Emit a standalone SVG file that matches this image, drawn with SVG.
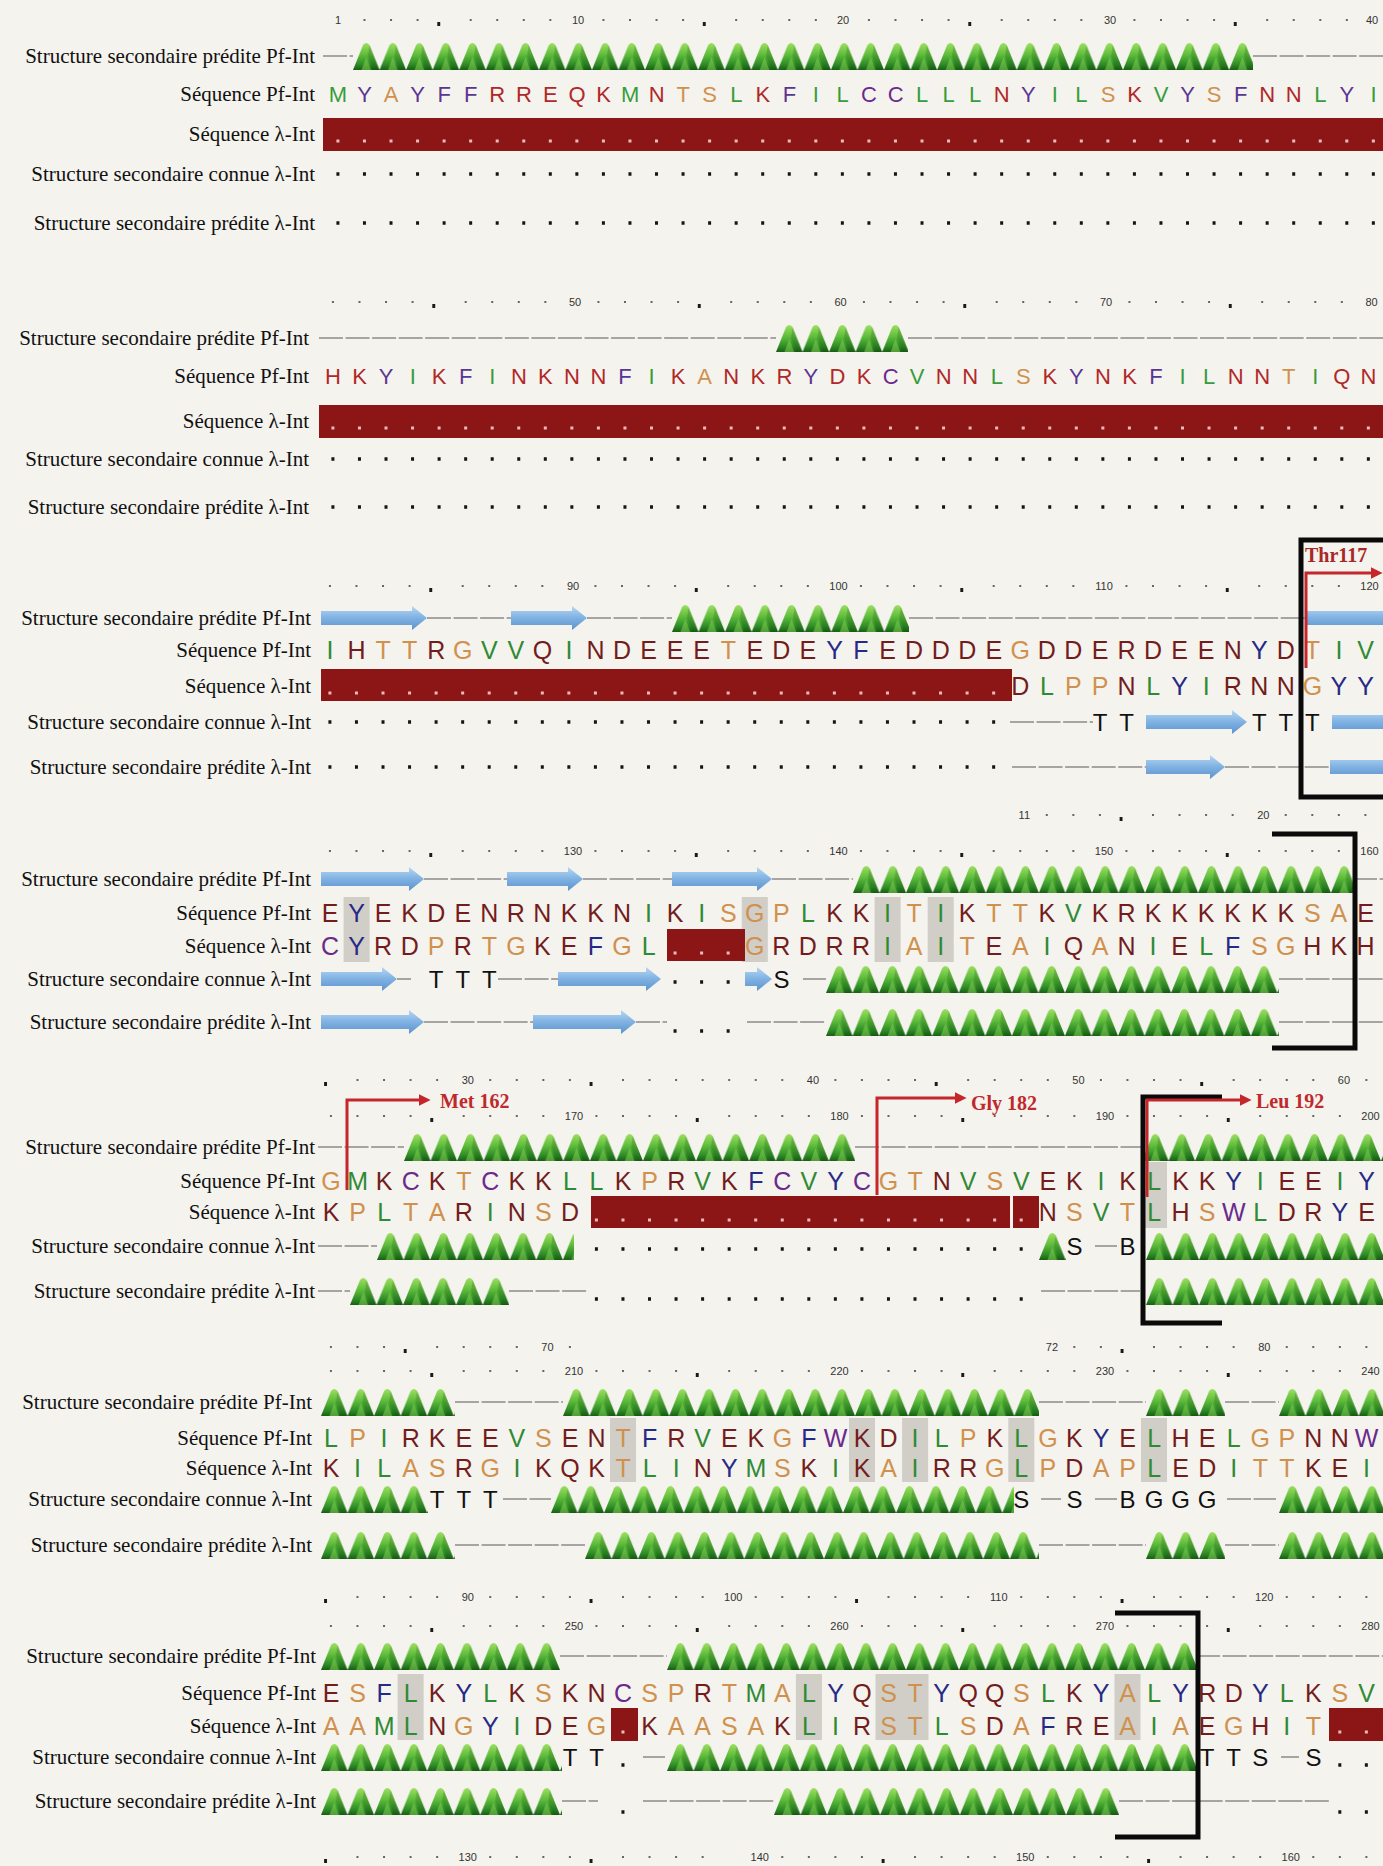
<svg xmlns="http://www.w3.org/2000/svg" width="1383" height="1866" viewBox="0 0 1383 1866">
<defs>
<style>
.lb{font-family:"Liberation Serif","Times New Roman",serif;font-size:21px;fill:#111;text-anchor:end}
.sq{font-family:"Liberation Sans",Arial,sans-serif;font-size:25px;text-anchor:middle}
.s1{font-size:22px}
.g{fill:#2f8a34}.o{fill:#d0914f}.r{fill:#731c1c}.b{fill:#262a86}.p{fill:#6a2a8c}
.k1 .r{fill:#b02828}.k1 .b{fill:#5b3592}.k1 .g{fill:#379c3c}
.ss{font-family:"Liberation Sans",Arial,sans-serif;font-size:24px;fill:#111;text-anchor:middle}
.nm{font-family:"Liberation Sans",Arial,sans-serif;font-size:11px;fill:#333;text-anchor:middle}
.an{font-family:"Liberation Serif","Times New Roman",serif;font-size:20px;font-weight:bold;fill:#c0292c}
.cl{fill:none;stroke:#8c8c8c;stroke-width:1.6;stroke-dasharray:24 2.55}
.hx{fill:url(#hx)}
.st{fill:url(#sg)}
.bar{fill:#8c1616}
.hl{fill:#d0cec7}
.rd{fill:none;stroke:#666;stroke-width:2;stroke-dasharray:0.0753 0.9247}
.tk{fill:none;stroke:#1a1a1a;stroke-width:4}
.bd{fill:none;stroke:#151515;stroke-width:3.5;stroke-dasharray:0.113 0.887}
.pd{fill:none;stroke:#ebbcbc;stroke-width:3;stroke-dasharray:0.113 0.887}
.bx{fill:none;stroke:#0a0a0a;stroke-width:5}
.ar{fill:none;stroke:#c4262a;stroke-width:3;marker-end:url(#ra)}
</style>
<linearGradient id="hg" gradientUnits="userSpaceOnUse" x1="0" y1="0" x2="0" y2="28">
<stop offset="0" stop-color="#a2e263"/><stop offset="0.45" stop-color="#5fbd3c"/><stop offset="0.8" stop-color="#2e8c26"/><stop offset="1" stop-color="#1a5e15"/>
</linearGradient>
<pattern id="hx" patternUnits="userSpaceOnUse" width="26.55" height="28">
<path d="M0,28 L10,3 Q13.3,-1 16.5,3 L26.55,28 Z" fill="url(#hg)"/>
<path d="M8.5,28 L13.3,15 L18,28 Z" fill="#7fd050" fill-opacity="0.55"/>
<path d="M16.5,3 L26.55,28 L20,28 L14.8,14 Z" fill="#0b3d08" fill-opacity="0.2"/>
</pattern>
<linearGradient id="sg" x1="0" y1="0" x2="0" y2="1">
<stop offset="0" stop-color="#b6d7f3"/><stop offset="0.5" stop-color="#7fb1e2"/><stop offset="1" stop-color="#5d94cd"/>
</linearGradient>
<marker id="ra" viewBox="0 0 10 10" refX="2" refY="5" markerWidth="4" markerHeight="4" orient="auto" markerUnits="strokeWidth">
<path d="M0,0 L10,5 L0,10 Z" fill="#c4262a"/>
</marker>
<g id="rstd"><path class="rd" d="M-0.04,0H3.04M4.96,0H8.04M9.96,0H13.04M14.96,0H18.04M19.96,0H23.04M24.96,0H28.04M29.96,0H33.04M34.96,0H38.04"/><path class="tk" d="M3.74,4H3.85M13.74,4H13.85M23.74,4H23.85M33.74,4H33.85"/></g>
</defs>
<rect width="1383" height="1866" fill="#f5f3ee"/>

<g id="block1">
<text class="lb" x="315" y="63">Structure secondaire prédite Pf-Int</text>
<text class="lb" x="315" y="101">Séquence Pf-Int</text>
<text class="lb" x="315" y="141">Séquence λ-Int</text>
<text class="lb" x="315" y="181">Structure secondaire connue λ-Int</text>
<text class="lb" x="315" y="230">Structure secondaire prédite λ-Int</text>
<g transform="translate(338,0) scale(26.55,1)">
<path class="rd" d="M0.96,20H3.04M4.96,20H8.04M9.96,20H13.04M14.96,20H18.04M19.96,20H23.04M24.96,20H28.04M29.96,20H33.04M34.96,20H38.04"/>
<path class="tk" d="M3.74,24H3.85M13.74,24H13.85M23.74,24H23.85M33.74,24H33.85"/>
</g>
<text class="nm" x="338" y="24">1</text><text class="nm" x="578" y="24">10</text><text class="nm" x="843" y="24">20</text><text class="nm" x="1110" y="24">30</text><text class="nm" x="1372" y="24">40</text>
<path class="cl" d="M323,56H353M1253,56H1383"/>
<rect class="hx" transform="translate(353,42)" width="900" height="28"/>
<g transform="translate(338,0)"><text class="sq s1 k1" y="102" x="0 26.6 53.1 79.7 106.2 132.8 159.3 185.9 212.4 239 265.5 292.1 318.6 345.2 371.7 398.3 424.8 451.4 477.9 504.5 531 557.6 584.1 610.7 637.2 663.8 690.3 716.9 743.4 770 796.5 823.1 849.6 876.2 902.7 929.3 955.8 982.4 1008.9 1035.5"><tspan class="g">M</tspan><tspan class="b">Y</tspan><tspan class="o">A</tspan><tspan class="b">YFF</tspan><tspan class="r">RREQK</tspan><tspan class="g">M</tspan><tspan class="r">N</tspan><tspan class="o">TS</tspan><tspan class="g">L</tspan><tspan class="r">K</tspan><tspan class="b">F</tspan><tspan class="g">IL</tspan><tspan class="p">CC</tspan><tspan class="g">LLL</tspan><tspan class="r">N</tspan><tspan class="b">Y</tspan><tspan class="g">IL</tspan><tspan class="o">S</tspan><tspan class="r">K</tspan><tspan class="g">V</tspan><tspan class="b">Y</tspan><tspan class="o">S</tspan><tspan class="b">F</tspan><tspan class="r">NN</tspan><tspan class="g">L</tspan><tspan class="b">Y</tspan><tspan class="g">I</tspan></text></g>
<rect class="bar" x="323" y="118" width="1060" height="33"/>
<g transform="translate(338,0) scale(26.55,1)">
<path class="pd" d="M-0.06,141H39.06"/>
<path class="bd" d="M-0.06,174H39.06M-0.06,223H39.06"/>
</g>
</g>

<g id="block2">
<text class="lb" x="309" y="345">Structure secondaire prédite Pf-Int</text>
<text class="lb" x="309" y="383">Séquence Pf-Int</text>
<text class="lb" x="309" y="428">Séquence λ-Int</text>
<text class="lb" x="309" y="466">Structure secondaire connue λ-Int</text>
<text class="lb" x="309" y="514">Structure secondaire prédite λ-Int</text>
<use href="#rstd" transform="translate(333,302) scale(26.55,1)"/>
<text class="nm" x="575" y="306">50</text><text class="nm" x="840.5" y="306">60</text><text class="nm" x="1106" y="306">70</text><text class="nm" x="1371.5" y="306">80</text>
<path class="cl" d="M319,338H776M908,338H1383"/>
<rect class="hx" transform="translate(776,324)" width="132" height="28"/>
<g transform="translate(333,0)"><text class="sq s1 k1" y="384" x="0 26.6 53.1 79.7 106.2 132.8 159.3 185.9 212.4 239 265.5 292.1 318.6 345.2 371.7 398.3 424.8 451.4 477.9 504.5 531 557.6 584.1 610.7 637.2 663.8 690.3 716.9 743.4 770 796.5 823.1 849.6 876.2 902.7 929.3 955.8 982.4 1008.9 1035.5"><tspan class="r">HK</tspan><tspan class="b">Y</tspan><tspan class="g">I</tspan><tspan class="r">K</tspan><tspan class="b">F</tspan><tspan class="g">I</tspan><tspan class="r">NKNN</tspan><tspan class="b">F</tspan><tspan class="g">I</tspan><tspan class="r">K</tspan><tspan class="o">A</tspan><tspan class="r">NKR</tspan><tspan class="b">Y</tspan><tspan class="r">DK</tspan><tspan class="p">C</tspan><tspan class="g">V</tspan><tspan class="r">NN</tspan><tspan class="g">L</tspan><tspan class="o">S</tspan><tspan class="r">K</tspan><tspan class="b">Y</tspan><tspan class="r">NK</tspan><tspan class="b">F</tspan><tspan class="g">IL</tspan><tspan class="r">NN</tspan><tspan class="o">T</tspan><tspan class="g">I</tspan><tspan class="r">QN</tspan></text></g>
<rect class="bar" x="319" y="405" width="1064" height="33"/>
<g transform="translate(333,0) scale(26.55,1)">
<path class="pd" d="M-0.06,428H39.06"/>
<path class="bd" d="M-0.06,459H39.06M-0.06,507H39.06"/>
</g>
</g>

<g id="block3">
<text class="lb" x="311" y="625">Structure secondaire prédite Pf-Int</text>
<text class="lb" x="311" y="657">Séquence Pf-Int</text>
<text class="lb" x="311" y="693">Séquence λ-Int</text>
<text class="lb" x="311" y="729">Structure secondaire connue λ-Int</text>
<text class="lb" x="311" y="774">Structure secondaire prédite λ-Int</text>
<use href="#rstd" transform="translate(330,586) scale(26.55,1)"/>
<text class="nm" x="573" y="590">90</text><text class="nm" x="838.5" y="590">100</text><text class="nm" x="1104" y="590">110</text><text class="nm" x="1369.5" y="590">120</text>
<path class="cl" d="M427,618H511M587,618H672M909,618H1305"/>
<path class="st" d="M321,611H412V606L427,618L412,630V625H321ZM511,611H572V606L587,618L572,630V625H511ZM1305,611H1383V625H1305Z"/>
<rect class="hx" transform="translate(672,604)" width="237" height="28"/>
<rect class="bar" x="321" y="669" width="691" height="32"/>
<g transform="translate(330,0)">
<text class="sq" y="659" x="0 26.6 53.1 79.7 106.2 132.8 159.3 185.9 212.4 239 265.5 292.1 318.6 345.2 371.7 398.3 424.8 451.4 477.9 504.5 531 557.6 584.1 610.7 637.2 663.8 690.3 716.9 743.4 770 796.5 823.1 849.6 876.2 902.7 929.3 955.8 982.4 1008.9 1035.5"><tspan class="g">I</tspan><tspan class="r">H</tspan><tspan class="o">TT</tspan><tspan class="r">R</tspan><tspan class="o">G</tspan><tspan class="g">VV</tspan><tspan class="r">Q</tspan><tspan class="g">I</tspan><tspan class="r">NDEEE</tspan><tspan class="o">T</tspan><tspan class="r">EDE</tspan><tspan class="b">YF</tspan><tspan class="r">EDDDE</tspan><tspan class="o">G</tspan><tspan class="r">DDERDEEN</tspan><tspan class="b">Y</tspan><tspan class="r">D</tspan><tspan class="o">T</tspan><tspan class="g">IV</tspan></text>
<text class="sq" y="695" x="690.3 716.9 743.4 770 796.5 823.1 849.6 876.2 902.7 929.3 955.8 982.4 1008.9 1035.5"><tspan class="r">D</tspan><tspan class="g">L</tspan><tspan class="o">PP</tspan><tspan class="r">N</tspan><tspan class="g">L</tspan><tspan class="b">Y</tspan><tspan class="g">I</tspan><tspan class="r">RNN</tspan><tspan class="o">G</tspan><tspan class="b">YY</tspan></text>
<text class="ss" y="730.5" x="770 796.5 929.3 955.8 982.4">TTTTT</text>
</g>
<g transform="translate(330,0) scale(26.55,1)">
<path class="pd" d="M-0.06,693H25.06"/>
<path class="bd" d="M-0.06,722H25.06M-0.06,767H25.06"/>
</g>
<path class="cl" d="M1010,722H1093M1012,767H1146M1225,767H1330"/>
<path class="st" d="M1146,715H1232V710L1247,722L1232,734V729H1146ZM1332,715H1383V729H1332Z"/>
<path class="st" d="M1146,760H1210V755L1225,767L1210,779V774H1146ZM1330,760H1383V774H1330Z"/>
<path class="bx" d="M1383,540H1301V797H1383"/>
</g>

<g id="block4">
<text class="lb" x="311" y="886">Structure secondaire prédite Pf-Int</text>
<text class="lb" x="311" y="920">Séquence Pf-Int</text>
<text class="lb" x="311" y="953">Séquence λ-Int</text>
<text class="lb" x="311" y="986">Structure secondaire connue λ-Int</text>
<text class="lb" x="311" y="1029">Structure secondaire prédite λ-Int</text>
<g transform="translate(330,0) scale(26.55,1)">
<path class="rd" d="M26.96,815H29.04M30.96,815H34.04M35.96,815H39.04"/>
<path class="tk" d="M29.74,819H29.85"/>
</g>
<text class="nm" x="1024.3" y="819">11</text><text class="nm" x="1263.3" y="819">20</text>
<use href="#rstd" transform="translate(330,851) scale(26.55,1)"/>
<text class="nm" x="573" y="855">130</text><text class="nm" x="838.5" y="855">140</text><text class="nm" x="1104" y="855">150</text><text class="nm" x="1369.5" y="855">160</text>
<path class="cl" d="M424,879H507M583,879H672M772,879H853M1353,879H1383"/>
<path class="st" d="M321,872H409V867L424,879L409,891V886H321ZM507,872H568V867L583,879L568,891V886H507ZM672,872H757V867L772,879L757,891V886H672Z"/>
<rect class="hx" transform="translate(853,865)" width="500" height="28"/>
<rect class="hl" x="343.6" y="897" width="26" height="65"/><rect class="hl" x="741.8" y="897" width="26" height="65"/><rect class="hl" x="874.6" y="897" width="26" height="65"/><rect class="hl" x="927.7" y="897" width="26" height="65"/>
<rect class="bar" x="667" y="929" width="78" height="32"/>
<g transform="translate(330,0)">
<text class="sq" y="922" x="0 26.6 53.1 79.7 106.2 132.8 159.3 185.9 212.4 239 265.5 292.1 318.6 345.2 371.7 398.3 424.8 451.4 477.9 504.5 531 557.6 584.1 610.7 637.2 663.8 690.3 716.9 743.4 770 796.5 823.1 849.6 876.2 902.7 929.3 955.8 982.4 1008.9 1035.5"><tspan class="r">E</tspan><tspan class="b">Y</tspan><tspan class="r">EKDENRNKKN</tspan><tspan class="g">I</tspan><tspan class="r">K</tspan><tspan class="g">I</tspan><tspan class="o">SGP</tspan><tspan class="g">L</tspan><tspan class="r">KK</tspan><tspan class="g">I</tspan><tspan class="o">T</tspan><tspan class="g">I</tspan><tspan class="r">K</tspan><tspan class="o">TT</tspan><tspan class="r">K</tspan><tspan class="g">V</tspan><tspan class="r">KRKKKKKK</tspan><tspan class="o">SA</tspan><tspan class="r">E</tspan></text>
<text class="sq" y="955" x="0 26.6 53.1 79.7 106.2 132.8 159.3 185.9 212.4 239 265.5 292.1 318.6"><tspan class="p">C</tspan><tspan class="b">Y</tspan><tspan class="r">RD</tspan><tspan class="o">P</tspan><tspan class="r">R</tspan><tspan class="o">TG</tspan><tspan class="r">KE</tspan><tspan class="b">F</tspan><tspan class="o">G</tspan><tspan class="g">L</tspan></text>
<text class="sq" y="955" x="424.8 451.4 477.9 504.5 531 557.6 584.1 610.7 637.2 663.8 690.3 716.9 743.4 770 796.5 823.1 849.6 876.2 902.7 929.3 955.8 982.4 1008.9 1035.5"><tspan class="o">G</tspan><tspan class="r">RDRR</tspan><tspan class="g">I</tspan><tspan class="o">A</tspan><tspan class="g">I</tspan><tspan class="o">T</tspan><tspan class="r">E</tspan><tspan class="o">A</tspan><tspan class="g">I</tspan><tspan class="r">Q</tspan><tspan class="o">A</tspan><tspan class="r">N</tspan><tspan class="g">I</tspan><tspan class="r">E</tspan><tspan class="g">L</tspan><tspan class="b">F</tspan><tspan class="o">SG</tspan><tspan class="r">HKH</tspan></text>
<text class="ss" y="987.5" x="106.2 132.8 159.3 451.4">TTTS</text>
</g>
<g transform="translate(330,0) scale(26.55,1)">
<path class="pd" d="M12.94,953H15.06"/>
<path class="bd" d="M12.94,982H15.06M12.94,1031H15.06"/>
</g>
<path class="cl" d="M397,979H411M498,979H558M803,979H826M1279,979H1383"/>
<path class="st" d="M321,972H382V967L397,979L382,991V986H321ZM558,972H646V967L661,979L646,991V986H558ZM745,972H757V967L772,979L757,991V986H745Z"/>
<rect class="hx" transform="translate(826,965)" width="453" height="28"/>
<path class="cl" d="M424,1022H533M636,1022H667M747,1022H826M1279,1022H1383"/>
<path class="st" d="M321,1015H409V1010L424,1022L409,1034V1029H321ZM533,1015H621V1010L636,1022L621,1034V1029H533Z"/>
<rect class="hx" transform="translate(826,1008)" width="453" height="28"/>
<path class="bx" d="M1272,834H1355V1048H1272"/>
</g>

<g id="block5">
<text class="lb" x="315" y="1154">Structure secondaire prédite Pf-Int</text>
<text class="lb" x="315" y="1188">Séquence Pf-Int</text>
<text class="lb" x="315" y="1219">Séquence λ-Int</text>
<text class="lb" x="315" y="1253">Structure secondaire connue λ-Int</text>
<text class="lb" x="315" y="1298">Structure secondaire prédite λ-Int</text>
<g transform="translate(331,0) scale(26.55,1)">
<path class="rd" d="M0.96,1080H4.04M5.96,1080H9.04M10.96,1080H17.04M18.96,1080H22.04M23.96,1080H27.04M28.96,1080H32.04M33.96,1080H37.04M38.96,1080H39.04"/>
<path class="tk" d="M-0.26,1084H-0.15M9.74,1084H9.85M22.74,1084H22.85M32.74,1084H32.85"/>
</g>
<text class="nm" x="467.8" y="1084">30</text><text class="nm" x="812.9" y="1084">40</text><text class="nm" x="1078.4" y="1084">50</text><text class="nm" x="1343.9" y="1084">60</text>
<use href="#rstd" transform="translate(331,1116) scale(26.55,1)"/>
<text class="nm" x="574" y="1120">170</text><text class="nm" x="839.5" y="1120">180</text><text class="nm" x="1105" y="1120">190</text><text class="nm" x="1370.5" y="1120">200</text>
<path class="cl" d="M318,1147H404M855,1147H1142"/>
<rect class="hx" transform="translate(404,1133)" width="451" height="28"/>
<rect class="hx" transform="translate(1142,1133)" width="241" height="28"/>
<rect class="hl" x="1141" y="1162" width="26" height="66"/>
<rect class="bar" x="591" y="1196" width="419" height="32"/><rect class="bar" x="1013" y="1196" width="26" height="32"/>
<g transform="translate(331,0)">
<text class="sq" y="1190" x="0 26.6 53.1 79.7 106.2 132.8 159.3 185.9 212.4 239 265.5 292.1 318.6 345.2 371.7 398.3 424.8 451.4 477.9 504.5 531 557.6 584.1 610.7 637.2 663.8 690.3 716.9 743.4 770 796.5 823.1 849.6 876.2 902.7 929.3 955.8 982.4 1008.9 1035.5"><tspan class="o">G</tspan><tspan class="g">M</tspan><tspan class="r">K</tspan><tspan class="p">C</tspan><tspan class="r">K</tspan><tspan class="o">T</tspan><tspan class="p">C</tspan><tspan class="r">KK</tspan><tspan class="g">LL</tspan><tspan class="r">K</tspan><tspan class="o">P</tspan><tspan class="r">R</tspan><tspan class="g">V</tspan><tspan class="r">K</tspan><tspan class="b">F</tspan><tspan class="p">C</tspan><tspan class="g">V</tspan><tspan class="b">Y</tspan><tspan class="p">C</tspan><tspan class="o">GT</tspan><tspan class="r">N</tspan><tspan class="g">V</tspan><tspan class="o">S</tspan><tspan class="g">V</tspan><tspan class="r">EK</tspan><tspan class="g">I</tspan><tspan class="r">K</tspan><tspan class="g">L</tspan><tspan class="r">KK</tspan><tspan class="b">Y</tspan><tspan class="g">I</tspan><tspan class="r">EE</tspan><tspan class="g">I</tspan><tspan class="b">Y</tspan></text>
<text class="sq" y="1221" x="0 26.6 53.1 79.7 106.2 132.8 159.3 185.9 212.4 239"><tspan class="r">K</tspan><tspan class="o">P</tspan><tspan class="g">L</tspan><tspan class="o">TA</tspan><tspan class="r">R</tspan><tspan class="g">I</tspan><tspan class="r">N</tspan><tspan class="o">S</tspan><tspan class="r">D</tspan></text>
<text class="sq" y="1221" x="716.9 743.4 770 796.5 823.1 849.6 876.2 902.7 929.3 955.8 982.4 1008.9 1035.5"><tspan class="r">N</tspan><tspan class="o">S</tspan><tspan class="g">V</tspan><tspan class="o">T</tspan><tspan class="g">L</tspan><tspan class="r">H</tspan><tspan class="o">S</tspan><tspan class="p">W</tspan><tspan class="g">L</tspan><tspan class="r">DR</tspan><tspan class="b">Y</tspan><tspan class="r">E</tspan></text>
<text class="ss" y="1254.5" x="743.4 796.5">SB</text>
</g>
<g transform="translate(331,0) scale(26.55,1)">
<path class="pd" d="M9.94,1220H26.06"/>
<path class="bd" d="M9.94,1249H26.06M9.94,1299H26.06"/>
</g>
<path class="cl" d="M318,1246H377M1095,1246H1117"/>
<rect class="hx" transform="translate(377,1232)" width="197" height="28"/>
<rect class="hx" transform="translate(1039,1232)" width="27" height="28"/>
<rect class="hx" transform="translate(1146,1232)" width="237" height="28"/>
<path class="cl" d="M318,1291H350M509,1291H587M1041,1291H1140"/>
<rect class="hx" transform="translate(350,1277)" width="159" height="28"/>
<rect class="hx" transform="translate(1146,1277)" width="237" height="28"/>
<path class="bx" d="M1222,1097H1143V1323H1222"/>
</g>

<g id="block6">
<text class="lb" x="312" y="1409">Structure secondaire prédite Pf-Int</text>
<text class="lb" x="312" y="1445">Séquence Pf-Int</text>
<text class="lb" x="312" y="1475">Séquence λ-Int</text>
<text class="lb" x="312" y="1506">Structure secondaire connue λ-Int</text>
<text class="lb" x="312" y="1552">Structure secondaire prédite λ-Int</text>
<g transform="translate(331,0) scale(26.55,1)">
<path class="rd" d="M-0.04,1347H2.04M3.96,1347H7.04M8.96,1347H9.04M27.96,1347H29.04M30.96,1347H34.04M35.96,1347H39.04"/>
<path class="tk" d="M2.74,1351H2.85M29.74,1351H29.85"/>
</g>
<text class="nm" x="547.4" y="1351">70</text><text class="nm" x="1051.9" y="1351">72</text><text class="nm" x="1264.3" y="1351">80</text>
<use href="#rstd" transform="translate(331,1371) scale(26.55,1)"/>
<text class="nm" x="574" y="1375">210</text><text class="nm" x="839.5" y="1375">220</text><text class="nm" x="1105" y="1375">230</text><text class="nm" x="1370.5" y="1375">240</text>
<path class="cl" d="M455,1402H563M1039,1402H1146M1225,1402H1279"/>
<rect class="hx" transform="translate(321,1388)" width="134" height="28"/>
<rect class="hx" transform="translate(563,1388)" width="476" height="28"/>
<rect class="hx" transform="translate(1146,1388)" width="79" height="28"/>
<rect class="hx" transform="translate(1279,1388)" width="104" height="28"/>
<rect class="hl" x="610" y="1418" width="26" height="64"/><rect class="hl" x="849" y="1418" width="26" height="64"/><rect class="hl" x="902.1" y="1418" width="26" height="64"/><rect class="hl" x="1008.3" y="1418" width="26" height="64"/><rect class="hl" x="1141" y="1418" width="26" height="64"/>
<g transform="translate(331,0)">
<text class="sq" y="1447" x="0 26.6 53.1 79.7 106.2 132.8 159.3 185.9 212.4 239 265.5 292.1 318.6 345.2 371.7 398.3 424.8 451.4 477.9 504.5 531 557.6 584.1 610.7 637.2 663.8 690.3 716.9 743.4 770 796.5 823.1 849.6 876.2 902.7 929.3 955.8 982.4 1008.9 1035.5"><tspan class="g">L</tspan><tspan class="o">P</tspan><tspan class="g">I</tspan><tspan class="r">RKEE</tspan><tspan class="g">V</tspan><tspan class="o">S</tspan><tspan class="r">EN</tspan><tspan class="o">T</tspan><tspan class="b">F</tspan><tspan class="r">R</tspan><tspan class="g">V</tspan><tspan class="r">EK</tspan><tspan class="o">G</tspan><tspan class="b">F</tspan><tspan class="p">W</tspan><tspan class="r">KD</tspan><tspan class="g">IL</tspan><tspan class="o">P</tspan><tspan class="r">K</tspan><tspan class="g">L</tspan><tspan class="o">G</tspan><tspan class="r">K</tspan><tspan class="b">Y</tspan><tspan class="r">E</tspan><tspan class="g">L</tspan><tspan class="r">HE</tspan><tspan class="g">L</tspan><tspan class="o">GP</tspan><tspan class="r">NN</tspan><tspan class="p">W</tspan></text>
<text class="sq" y="1477" x="0 26.6 53.1 79.7 106.2 132.8 159.3 185.9 212.4 239 265.5 292.1 318.6 345.2 371.7 398.3 424.8 451.4 477.9 504.5 531 557.6 584.1 610.7 637.2 663.8 690.3 716.9 743.4 770 796.5 823.1 849.6 876.2 902.7 929.3 955.8 982.4 1008.9 1035.5"><tspan class="r">K</tspan><tspan class="g">IL</tspan><tspan class="o">AS</tspan><tspan class="r">R</tspan><tspan class="o">G</tspan><tspan class="g">I</tspan><tspan class="r">KQK</tspan><tspan class="o">T</tspan><tspan class="g">LI</tspan><tspan class="r">N</tspan><tspan class="b">Y</tspan><tspan class="g">M</tspan><tspan class="o">S</tspan><tspan class="r">K</tspan><tspan class="g">I</tspan><tspan class="r">K</tspan><tspan class="o">A</tspan><tspan class="g">I</tspan><tspan class="r">RR</tspan><tspan class="o">G</tspan><tspan class="g">L</tspan><tspan class="o">P</tspan><tspan class="r">D</tspan><tspan class="o">AP</tspan><tspan class="g">L</tspan><tspan class="r">ED</tspan><tspan class="g">I</tspan><tspan class="o">TT</tspan><tspan class="r">KE</tspan><tspan class="g">I</tspan></text>
<text class="ss" y="1507.5" x="106.2 132.8 159.3 690.3 743.4 796.5 823.1 849.6 876.2">TTTSSBGGG</text>
</g>
<path class="cl" d="M503,1499H551M1041,1499H1061M1095,1499H1117M1227,1499H1276"/>
<rect class="hx" transform="translate(321,1485)" width="107" height="28"/>
<rect class="hx" transform="translate(551,1485)" width="463" height="28"/>
<rect class="hx" transform="translate(1279,1485)" width="104" height="28"/>
<path class="cl" d="M455,1545H585M1039,1545H1146M1225,1545H1279"/>
<rect class="hx" transform="translate(321,1531)" width="134" height="28"/>
<rect class="hx" transform="translate(585,1531)" width="454" height="28"/>
<rect class="hx" transform="translate(1146,1531)" width="79" height="28"/>
<rect class="hx" transform="translate(1279,1531)" width="104" height="28"/>
</g>

<g id="block7">
<text class="lb" x="316" y="1663">Structure secondaire prédite Pf-Int</text>
<text class="lb" x="316" y="1700">Séquence Pf-Int</text>
<text class="lb" x="316" y="1733">Séquence λ-Int</text>
<text class="lb" x="316" y="1764">Structure secondaire connue λ-Int</text>
<text class="lb" x="316" y="1808">Structure secondaire prédite λ-Int</text>
<g transform="translate(331,0) scale(26.55,1)">
<path class="rd" d="M0.96,1597H4.04M5.96,1597H9.04M10.96,1597H14.04M15.96,1597H19.04M20.96,1597H24.04M25.96,1597H29.04M30.96,1597H34.04M35.96,1597H39.04"/>
<path class="tk" d="M-0.26,1601H-0.15M9.74,1601H9.85M19.74,1601H19.85M29.74,1601H29.85"/>
<path class="rd" d="M0.96,1857H4.04M5.96,1857H9.04M10.96,1857H14.04M16.96,1857H20.04M21.96,1857H25.04M26.96,1857H30.04M31.96,1857H35.04M36.96,1857H39.04"/>
<path class="tk" d="M-0.26,1861H-0.15M9.74,1861H9.85M20.74,1861H20.85M30.74,1861H30.85"/>
</g>
<text class="nm" x="467.8" y="1601">90</text><text class="nm" x="733.3" y="1601">100</text><text class="nm" x="998.8" y="1601">110</text><text class="nm" x="1264.3" y="1601">120</text>
<use href="#rstd" transform="translate(331,1626) scale(26.55,1)"/>
<text class="nm" x="574" y="1630">250</text><text class="nm" x="839.5" y="1630">260</text><text class="nm" x="1105" y="1630">270</text><text class="nm" x="1370.5" y="1630">280</text>
<text class="nm" x="467.8" y="1861">130</text><text class="nm" x="759.8" y="1861">140</text><text class="nm" x="1025.3" y="1861">150</text><text class="nm" x="1290.8" y="1861">160</text>
<path class="cl" d="M560,1656H667M1196,1656H1383"/>
<rect class="hx" transform="translate(321,1642)" width="239" height="28"/>
<rect class="hx" transform="translate(667,1642)" width="529" height="28"/>
<rect class="hl" x="397.6" y="1674" width="26" height="66"/><rect class="hl" x="795.9" y="1674" width="26" height="66"/><rect class="hl" x="875.5" y="1674" width="53" height="66"/><rect class="hl" x="1114.5" y="1674" width="26" height="66"/>
<rect class="bar" x="611" y="1708" width="27" height="33"/><rect class="bar" x="1329" y="1708" width="54" height="33"/>
<g transform="translate(331,0)">
<text class="sq" y="1702" x="0 26.6 53.1 79.7 106.2 132.8 159.3 185.9 212.4 239 265.5 292.1 318.6 345.2 371.7 398.3 424.8 451.4 477.9 504.5 531 557.6 584.1 610.7 637.2 663.8 690.3 716.9 743.4 770 796.5 823.1 849.6 876.2 902.7 929.3 955.8 982.4 1008.9 1035.5"><tspan class="r">E</tspan><tspan class="o">S</tspan><tspan class="b">F</tspan><tspan class="g">L</tspan><tspan class="r">K</tspan><tspan class="b">Y</tspan><tspan class="g">L</tspan><tspan class="r">K</tspan><tspan class="o">S</tspan><tspan class="r">KN</tspan><tspan class="p">C</tspan><tspan class="o">SP</tspan><tspan class="r">R</tspan><tspan class="o">T</tspan><tspan class="g">M</tspan><tspan class="o">A</tspan><tspan class="g">L</tspan><tspan class="b">Y</tspan><tspan class="r">Q</tspan><tspan class="o">ST</tspan><tspan class="b">Y</tspan><tspan class="r">QQ</tspan><tspan class="o">S</tspan><tspan class="g">L</tspan><tspan class="r">K</tspan><tspan class="b">Y</tspan><tspan class="o">A</tspan><tspan class="g">L</tspan><tspan class="b">Y</tspan><tspan class="r">RD</tspan><tspan class="b">Y</tspan><tspan class="g">L</tspan><tspan class="r">K</tspan><tspan class="o">S</tspan><tspan class="g">V</tspan></text>
<text class="sq" y="1735" x="0 26.6 53.1 79.7 106.2 132.8 159.3 185.9 212.4 239 265.5"><tspan class="o">AA</tspan><tspan class="g">ML</tspan><tspan class="r">N</tspan><tspan class="o">G</tspan><tspan class="b">Y</tspan><tspan class="g">I</tspan><tspan class="r">DE</tspan><tspan class="o">G</tspan></text>
<text class="sq" y="1735" x="318.6 345.2 371.7 398.3 424.8 451.4 477.9 504.5 531 557.6 584.1 610.7 637.2 663.8 690.3 716.9 743.4 770 796.5 823.1 849.6 876.2 902.7 929.3 955.8 982.4"><tspan class="r">K</tspan><tspan class="o">AASA</tspan><tspan class="r">K</tspan><tspan class="g">LI</tspan><tspan class="r">R</tspan><tspan class="o">ST</tspan><tspan class="g">L</tspan><tspan class="o">S</tspan><tspan class="r">D</tspan><tspan class="o">A</tspan><tspan class="b">F</tspan><tspan class="r">RE</tspan><tspan class="o">A</tspan><tspan class="g">I</tspan><tspan class="o">A</tspan><tspan class="r">E</tspan><tspan class="o">G</tspan><tspan class="r">H</tspan><tspan class="g">I</tspan><tspan class="o">T</tspan></text>
<text class="ss" y="1765.5" x="239 265.5 876.2 902.7 929.3 982.4">TTTTSS</text>
</g>
<g transform="translate(331,0) scale(26.55,1)">
<path class="pd" d="M10.94,1732H11.06M37.94,1732H39.06"/>
<path class="bd" d="M10.94,1765H11.06M37.94,1765H39.06M10.94,1812H11.06M37.94,1812H39.06"/>
</g>
<path class="cl" d="M643,1757H665M1281,1757H1299"/>
<rect class="hx" transform="translate(321,1743)" width="241" height="28"/>
<rect class="hx" transform="translate(667,1743)" width="529" height="28"/>
<path class="cl" d="M562,1801H598M643,1801H774M1119,1801H1330"/>
<rect class="hx" transform="translate(321,1787)" width="241" height="28"/>
<rect class="hx" transform="translate(774,1787)" width="345" height="28"/>
<path class="bx" d="M1115,1613H1198V1837H1115"/>
</g>

<g id="connectors">
<path class="ar" d="M1306,668V573H1373"/>
<path class="ar" d="M347,1190V1100H421"/>
<path class="ar" d="M877,1195V1098H957"/>
<path class="ar" d="M1147,1197V1100H1242"/>
<text class="an" x="1305" y="562" style="fill:#a82828">Thr117</text>
<text class="an" x="440" y="1108">Met 162</text>
<text class="an" x="971" y="1110">Gly 182</text>
<text class="an" x="1256" y="1108">Leu 192</text>
</g>
</svg>
